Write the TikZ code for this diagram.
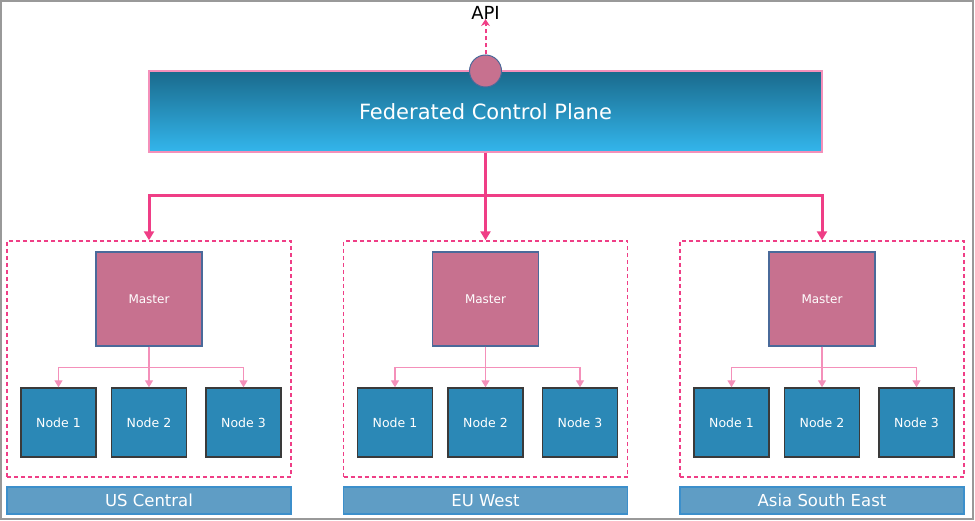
\documentclass[tikz,border=0pt]{standalone}
\usepackage{fontspec}
\setmainfont{DejaVu Sans}
\usetikzlibrary{positioning,arrows.meta}

\definecolor{fedpink}{HTML}{EF3E86}
\definecolor{lightpink}{HTML}{F490BA}
\definecolor{masterfill}{HTML}{C7718F}
\definecolor{masterdraw}{HTML}{4A6A9A}
\definecolor{nodefill}{HTML}{2B88B6}
\definecolor{nodedraw}{HTML}{3A3A3A}
\definecolor{zonefill}{HTML}{5F9DC5}
\definecolor{zonedraw}{HTML}{3C8FCB}
\definecolor{cptop}{HTML}{1A6A8C}
\definecolor{cpbottom}{HTML}{33B6EC}

\begin{document}
\begin{tikzpicture}[
    x=1pt, y=-1pt,
    plane/.style={rectangle,draw=lightpink,line width=1.2pt,top color=cptop,bottom color=cpbottom,
        minimum width=673pt,minimum height=81pt,text=white,font=\fontsize{21}{24}\selectfont},
    port/.style={circle,fill=masterfill,draw=masterdraw,line width=1pt,minimum size=32pt,inner sep=0pt},
    region/.style={rectangle,draw=fedpink,line width=1.4pt,dash pattern=on 4pt off 3pt,
        minimum width=284pt,minimum height=236pt},
    master/.style={rectangle,fill=masterfill,draw=masterdraw,line width=1.2pt,minimum width=106pt,
        minimum height=94pt,text=white,font=\fontsize{12}{14}\selectfont},
    worker/.style={rectangle,fill=nodefill,draw=nodedraw,line width=1.4pt,minimum width=75pt,
        minimum height=69pt,text=white,font=\fontsize{12.5}{14}\selectfont},
    zone/.style={rectangle,fill=zonefill,draw=zonedraw,line width=1.2pt,minimum width=284pt,
        minimum height=27pt,text=white,font=\fontsize{16.5}{18}\selectfont},
    trunk/.style={draw=fedpink,line width=3pt},
    branch/.style={draw=lightpink,line width=1.3pt,-{Triangle[length=7pt,width=8pt]}},
    apiline/.style={draw=fedpink,line width=2pt,dash pattern=on 4pt off 3pt,-{Stealth[length=7pt,width=9pt]}}
]
\useasboundingbox (0,0) rectangle (975,521);

% outer frame
\draw[gray!80,line width=1.5pt] (1,1) rectangle (973,519);

% Control plane and API
\node[plane] (CP) at (485.5,111.5) {Federated Control Plane};
\node[port] (P) at (485.5,71) {};
\node[font=\fontsize{18}{20}\selectfont] (API) at (485.5,13) {API};
\draw[apiline] (P.north) -- ([yshift=4pt]API.south);

\coordinate (J) at (485.5,196);
\draw[trunk] (CP.south) -- (J);

% Clusters
\foreach \g/\cx/\zname in {1/149/US Central, 2/485.5/EU West, 3/822/Asia South East} {
    \node[region] (R\g) at (\cx,359) {};
    \node[master] (M\g) at (\cx,299) {Master};
    \node[worker] (N\g1) at (\cx-90.5,422.5) {Node 1};
    \node[worker] (N\g2) at (\cx,422.5) {Node 2};
    \node[worker] (N\g3) at (\cx+94.5,422.5) {Node 3};
    \node[zone] (Z\g) at (\cx,500.5) {\zname};

    \draw[trunk,-{Triangle[length=9pt,width=10pt]}] (J) -| (R\g.north);

    \draw[branch] (M\g.south) -- ++(0,21) -| (N\g1.north);
    \draw[branch] (M\g.south) -- (N\g2.north);
    \draw[branch] (M\g.south) -- ++(0,21) -| (N\g3.north);
}

\end{tikzpicture}
\end{document}
